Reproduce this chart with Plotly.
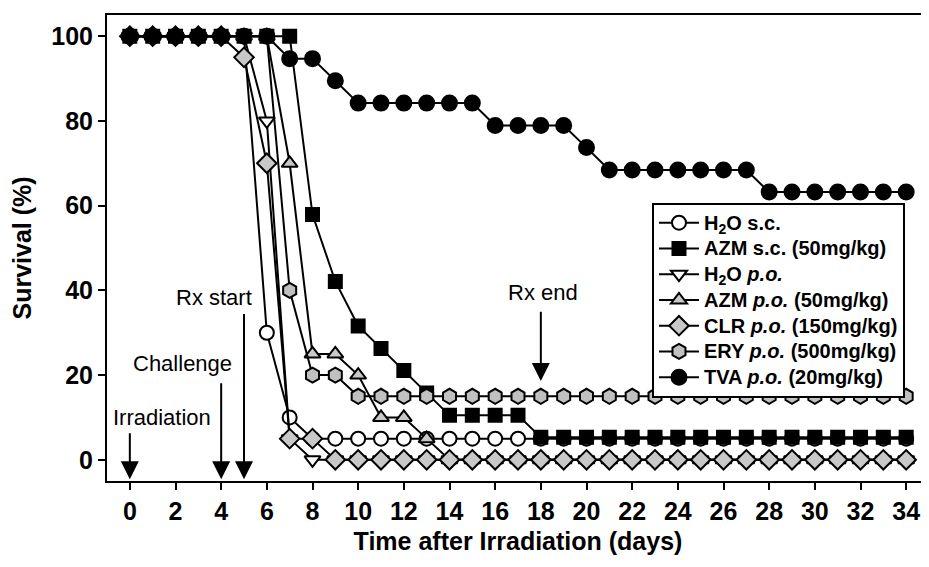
import plotly.graph_objects as go

days = list(range(0, 35))

h2o_sc = [100, 100, 100, 100, 100, 100, 30, 10, 5, 5, 5, 5, 5, 5, 5, 5, 5, 5,
          5, 5, 5, 5, 5, 5, 5, 5, 5, 5, 5, 5, 5, 5, 5, 5, 5]
azm_sc = [100, 100, 100, 100, 100, 100, 100, 100, 57.9, 42.1, 31.6, 26.3, 21.1, 15.8,
          10.5, 10.5, 10.5, 10.5, 5.3, 5.3, 5.3, 5.3, 5.3, 5.3, 5.3, 5.3, 5.3, 5.3,
          5.3, 5.3, 5.3, 5.3, 5.3, 5.3, 5.3]
h2o_po = [100, 100, 100, 100, 100, 100, 80, 5, 0, 0, 0, 0, 0, 0, 0, 0, 0, 0,
          0, 0, 0, 0, 0, 0, 0, 0, 0, 0, 0, 0, 0, 0, 0, 0, 0]
azm_po = [100, 100, 100, 100, 100, 100, 100, 70, 25, 25, 20, 10, 10, 5, 0, 0, 0, 0,
          0, 0, 0, 0, 0, 0, 0, 0, 0, 0, 0, 0, 0, 0, 0, 0, 0]
clr_po = [100, 100, 100, 100, 100, 95, 70, 5, 5, 0, 0, 0, 0, 0, 0, 0, 0, 0,
          0, 0, 0, 0, 0, 0, 0, 0, 0, 0, 0, 0, 0, 0, 0, 0, 0]
ery_po = [100, 100, 100, 100, 100, 100, 100, 40, 20, 20, 15, 15, 15, 15, 15, 15, 15, 15,
          15, 15, 15, 15, 15, 15, 15, 15, 15, 15, 15, 15, 15, 15, 15, 15, 15]
tva_po = [100, 100, 100, 100, 100, 100, 100, 94.7, 94.7, 89.5, 84.2, 84.2, 84.2, 84.2,
          84.2, 84.2, 78.9, 78.9, 78.9, 78.9, 73.7, 68.4, 68.4, 68.4, 68.4, 68.4, 68.4,
          68.4, 63.2, 63.2, 63.2, 63.2, 63.2, 63.2, 63.2]

x_ticks = list(range(0, 35, 2))
y_ticks = [0, 20, 40, 60, 80, 100]

series_names = [
    "H<sub>2</sub>O s.c.",
    "AZM s.c. (50mg/kg)",
    "H<sub>2</sub>O <i>p.o.</i>",
    "AZM <i>p.o.</i> (50mg/kg)",
    "CLR <i>p.o.</i> (150mg/kg)",
    "ERY <i>p.o.</i> (500mg/kg)",
    "TVA <i>p.o.</i> (20mg/kg)",
]
series_values = [h2o_sc, azm_sc, h2o_po, azm_po, clr_po, ery_po, tva_po]

styles = [
    dict(symbol="circle", color="white", size=14),
    dict(symbol="square", color="black", size=13),
    dict(symbol="triangle-down", color="white", size=14),
    dict(symbol="triangle-up", color="#c8c8c8", size=14),
    dict(symbol="diamond", color="#c8c8c8", size=15),
    dict(symbol="hexagon", color="#c0c0c0", size=15),
    dict(symbol="circle", color="black", size=15),
]

FONT = "Liberation Sans, Arial, sans-serif"

fig = go.Figure()
for name, vals, st in zip(series_names, series_values, styles):
    fig.add_trace(go.Scatter(
        x=days, y=vals,
        name='<span style="font-size:20px"><b>' + name + '</b></span>',
        mode="lines+markers",
        line=dict(color="black", width=2),
        marker=dict(symbol=st["symbol"], color=st["color"], size=st["size"],
                    line=dict(color="black", width=2)),
    ))

# arrows (tip, tail) in data coordinates
arrows = [
    (0, -4.6, 0, 6.6),
    (4, -4.6, 4, 18.4),
    (5, -4.6, 5, 34.8),
    (18, 18.6, 18, 35.3),
]
for x, y, ax, ay in arrows:
    fig.add_annotation(x=x, y=y, ax=ax, ay=ay, xref="x", yref="y", axref="x", ayref="y",
                       showarrow=True, arrowhead=2, arrowsize=1.8, arrowwidth=2,
                       arrowcolor="black", text="")

labels = [
    ("Irradiation", 1.4, 10.1),
    ("Challenge", 2.3, 22.8),
    ("Rx start", 3.7, 38.4),
    ("Rx end", 18.1, 39.5),
]
for t, x, y in labels:
    fig.add_annotation(x=x, y=y, xref="x", yref="y", text=t, showarrow=False,
                       font=dict(family=FONT, size=22, color="black"))

fig.update_layout(
    width=929, height=567,
    margin=dict(l=99, r=8, t=7, b=94),
    paper_bgcolor="white", plot_bgcolor="white",
    font=dict(family=FONT, color="black"),
    showlegend=True,
    legend=dict(
        x=0.663, y=0.597, xanchor="left", yanchor="top",
        bgcolor="white", bordercolor="black", borderwidth=2,
        font=dict(family=FONT, size=17.5, color="black"),
        tracegroupgap=0, itemwidth=40,
    ),
    xaxis=dict(
        range=[-1, 35], tickvals=x_ticks, ticktext=[str(v) for v in x_ticks],
        showgrid=False, zeroline=False, showline=True, linecolor="black", linewidth=2,
        mirror=True, ticks="outside", ticklen=7, tickwidth=2, tickcolor="black",
        automargin=False,
        tickfont=dict(family=FONT, size=25, color="black", weight="bold"),
        title=dict(text="<b>Time after Irradiation (days)</b>",
                   font=dict(family=FONT, size=25, color="black"), standoff=8),
    ),
    yaxis=dict(
        range=[-5, 105], tickvals=y_ticks, ticktext=[str(v) for v in y_ticks],
        showgrid=False, zeroline=False, showline=True, linecolor="black", linewidth=2,
        ticks="outside", ticklen=7, tickwidth=2, tickcolor="black",
        automargin=False,
        tickfont=dict(family=FONT, size=25, color="black", weight="bold"),
        title=dict(text="<b>Survival (%)</b>",
                   font=dict(family=FONT, size=25, color="black"), standoff=14),
    ),
)

fig.write_html("out.html")
